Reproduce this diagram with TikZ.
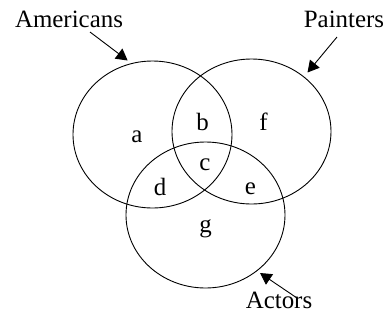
\documentclass[tikz,border=0pt]{standalone}
\usepackage{fontspec}
\setmainfont{Liberation Serif}
\usetikzlibrary{arrows.meta}
\begin{document}
\begin{tikzpicture}[x=1bp,y=-1bp,
  setshape/.style={draw=black,line width=0.9bp},
  lbl/.style={anchor=base,inner sep=0pt,font=\fontsize{25}{25}\selectfont},
  pointer/.style={draw=black,line width=0.9bp,-{Triangle[length=11.5bp,width=12.5bp]}}]
\useasboundingbox (0,0) rectangle (389,326);
\draw[setshape] (152.5,134.5) ellipse [x radius=79.5, y radius=73.5];
\draw[setshape] (251.5,131.5) ellipse [x radius=79.5, y radius=72.5];
\draw[setshape] (205.5,215) ellipse [x radius=79.5, y radius=73];
\node[lbl] (am) at (69,27) {Americans};
\node[lbl] (pa) at (344,27) {Painters};
\node[lbl] (ac) at (279,308) {Actors};
\node[lbl] (a) at (137,142.5) {a};
\node[lbl] (b) at (202.5,130.3) {b};
\node[lbl] (f) at (263.5,130.3) {f};
\node[lbl] (c) at (205,170.5) {c};
\node[lbl] (d) at (160,195.8) {d};
\node[lbl] (e) at (250.5,194.5) {e};
\node[lbl] (g) at (205.5,232) {g};
\coordinate (amt) at (127.7,60.5);
\coordinate (pat) at (307.5,72.5);
\coordinate (act) at (260,273);
\draw[pointer] (90,32) -- (amt);
\draw[pointer] (337,37) -- (pat);
\draw[pointer] (297,298) -- (act);
\end{tikzpicture}
\end{document}
